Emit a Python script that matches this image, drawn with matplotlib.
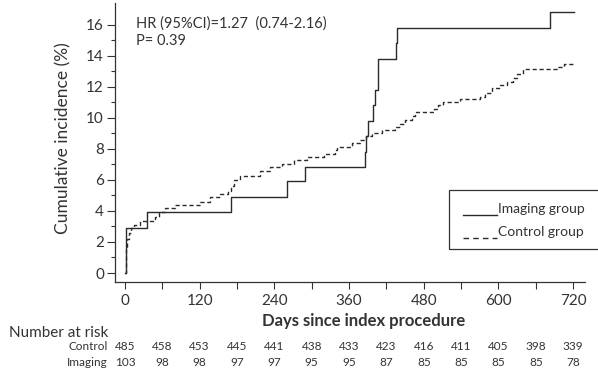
import matplotlib.pyplot as plt
from matplotlib.patches import Rectangle
from matplotlib.lines import Line2D
import matplotlib.transforms as mtransforms

plt.rcParams['font.family'] = ['Lato', 'DejaVu Sans']

W, H = 598, 371

# Kaplan-Meier style cumulative incidence (%)
imagingDays = [0, 1, 2, 36, 171, 260, 289, 386, 388, 391, 398, 402, 407, 436, 437, 682, 722]
imagingCum = [0, 1.0, 2.9, 3.9, 4.9, 5.9, 6.85, 7.8, 8.8, 9.8, 10.8, 11.8, 13.8, 14.8, 15.8, 16.8, 16.8]

controlDays = [0, 1, 2, 4, 6, 9, 14, 24, 48, 54, 64, 80, 120, 137, 153, 166, 171, 175, 185, 217,
               233, 252, 271, 292, 319, 338, 341, 364, 378, 388, 397, 413, 434, 442, 450, 461,
               466, 496, 503, 511, 538, 571, 579, 590, 603, 614, 624, 630, 640, 694, 705, 722]
controlCum = [0, 0.8, 1.6, 2.2, 2.6, 2.9, 3.1, 3.35, 3.6, 3.95, 4.2, 4.4, 4.6, 4.9, 5.1, 5.3, 5.6,
              6.0, 6.25, 6.6, 6.85, 7.05, 7.3, 7.5, 7.7, 7.9, 8.15, 8.35, 8.55, 8.85, 9.05, 9.2,
              9.4, 9.6, 9.85, 10.1, 10.35, 10.6, 10.8, 11.05, 11.2, 11.35, 11.6, 11.9, 12.1, 12.3,
              12.55, 12.8, 13.15, 13.3, 13.45, 13.45]

# number at risk table
riskDays = list(range(0, 721, 60))
controlRisk = [485, 458, 453, 445, 441, 438, 433, 423, 416, 411, 405, 398, 339]
imagingRisk = [103, 98, 98, 97, 97, 95, 95, 87, 85, 85, 85, 85, 78]

hrText = 'HR (95%CI)=1.27  (0.74-2.16)'
pText = 'P= 0.39'

textColor = '#333333'
lineColor = '#2a2a2a'


def fx(px):
    return px / W


def fy(py):
    return 1 - py / H


fig = plt.figure(figsize=(W / 100, H / 100), dpi=100)
ax = fig.add_axes([fx(115), fy(281.7), fx(585) - fx(115), fy(3) - fy(281.7)])

ax.step(imagingDays, imagingCum, where='post', color=lineColor, lw=1.0)
ax.step(controlDays, controlCum, where='post', color=lineColor, lw=1.0, dashes=(3, 2))

ax.set_xlim(-16, 739)
ax.set_ylim(-0.56, 17.4)
ax.set_xticks(range(0, 721, 120))
ax.set_xticks(range(60, 721, 120), minor=True)
ax.set_yticks(range(0, 17, 2))
ax.set_yticks(range(1, 17, 2), minor=True)
ax.tick_params(axis='x', which='both', direction='out', length=5, width=0.8,
               labelsize=11, labelcolor=textColor, color=textColor, pad=4)
ax.tick_params(axis='y', which='major', direction='out', length=6, width=0.8,
               labelsize=11, labelcolor=textColor, color=textColor, pad=2)
ax.tick_params(axis='y', which='minor', direction='out', length=3, width=0.8, color=textColor)
for side in ['top', 'right']:
    ax.spines[side].set_visible(False)
for side in ['left', 'bottom']:
    ax.spines[side].set_color(textColor)
    ax.spines[side].set_linewidth(0.9)

fig.text(fx(63), fy(138), 'Cumulative incidence (%)', rotation=90, ha='center', va='center',
         fontsize=12.5, color=textColor)
fig.text(fx(364), fy(321), 'Days since index procedure', ha='center', va='center',
         fontsize=12, fontweight='bold', color=textColor)

fig.text(fx(136), fy(24), hrText, ha='left', va='center', fontsize=10.5, color=textColor)
fig.text(fx(136), fy(41), pText, ha='left', va='center', fontsize=10.5, color=textColor)

# legend box drawn by hand, it runs off the right edge
fig.add_artist(Rectangle((fx(449), fy(249)), fx(640) - fx(449), fy(190) - fy(249),
                         transform=fig.transFigure, fill=False, ec=textColor, lw=0.9))
fig.add_artist(Line2D([fx(463), fx(497)], [fy(215), fy(215)], transform=fig.transFigure,
                      color=lineColor, lw=1.0))
fig.add_artist(Line2D([fx(463), fx(497)], [fy(238), fy(238)], transform=fig.transFigure,
                      color=lineColor, lw=1.0, dashes=(4, 3)))
fig.text(fx(498), fy(209), 'Imaging group', ha='left', va='center', fontsize=10, color=textColor)
fig.text(fx(498), fy(232), 'Control group', ha='left', va='center', fontsize=10, color=textColor)

# number at risk
fig.text(fx(9), fy(333), 'Number at risk', ha='left', va='center', fontsize=11, color=textColor)
fig.text(fx(108), fy(347), 'Control', ha='right', va='center', fontsize=8.5, color=textColor)
fig.text(fx(108), fy(362), 'Imaging', ha='right', va='center', fontsize=8.5, color=textColor)
trans = mtransforms.blended_transform_factory(ax.transData, fig.transFigure)
for d, c, i in zip(riskDays, controlRisk, imagingRisk):
    ax.text(d, fy(347), str(c), transform=trans, ha='center', va='center', fontsize=8.5,
            color=textColor, clip_on=False)
    ax.text(d, fy(362), str(i), transform=trans, ha='center', va='center', fontsize=8.5,
            color=textColor, clip_on=False)

fig.savefig('out.png', dpi=100)
